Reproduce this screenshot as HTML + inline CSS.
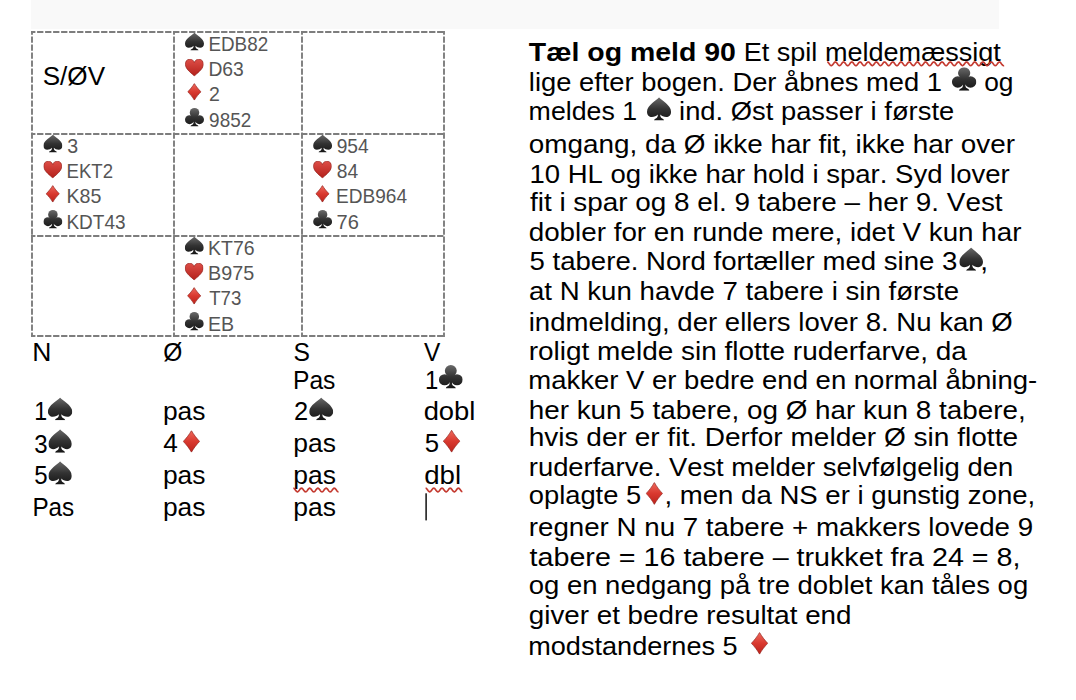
<!DOCTYPE html>
<html><head><meta charset="utf-8"><title>Tæl og meld 90</title>
<style>
html,body{margin:0;padding:0;background:#fff;}
body{width:1076px;height:700px;overflow:hidden;position:relative;}
svg{position:absolute;left:0;top:0;}
text{font-family:"Liberation Sans",sans-serif;font-kerning:none;font-variant-ligatures:none;white-space:pre;}
</style></head><body>
<svg width="1076" height="700" viewBox="0 0 1076 700">
<defs>
<linearGradient id="gb" gradientUnits="userSpaceOnUse" x1="0" y1="0" x2="0" y2="100"><stop offset="0" stop-color="#6a6a6a"/><stop offset="0.5" stop-color="#333"/><stop offset="1" stop-color="#151515"/></linearGradient>
<linearGradient id="gr" gradientUnits="userSpaceOnUse" x1="0" y1="0" x2="0" y2="100"><stop offset="0" stop-color="#de4f48"/><stop offset="1" stop-color="#b3201a"/></linearGradient>
<linearGradient id="gd" gradientUnits="userSpaceOnUse" x1="0" y1="0" x2="0" y2="100"><stop offset="0" stop-color="#ee6a5e"/><stop offset="0.5" stop-color="#d9392f"/><stop offset="1" stop-color="#bb221b"/></linearGradient>
<symbol id="spade" viewBox="0 0 100 100" preserveAspectRatio="none"><path fill="url(#gb)" d="M50 0 C58 12 100 34 100 62 C100 76 91 85 80 85 C70 85 60 80 55 74 C55 80 56 86 60 89 C64 92 71 94 71 100 L29 100 C29 94 36 92 40 89 C44 86 45 80 45 74 C40 80 30 85 20 85 C9 85 0 76 0 62 C0 34 42 12 50 0 Z"/></symbol>
<symbol id="club" viewBox="0 0 100 100" preserveAspectRatio="none"><g fill="url(#gb)"><circle cx="50" cy="25" r="25"/><circle cx="24" cy="63" r="24"/><circle cx="76" cy="63" r="24"/><path d="M36 40 L64 40 L62 74 L38 74 Z"/><path d="M45 70 C45 82 44 86 40 89 C36 92 29 94 29 100 L71 100 C71 94 64 92 60 89 C56 86 55 82 55 70 Z"/></g></symbol>
<symbol id="heart" viewBox="0 0 100 100" preserveAspectRatio="none"><path fill="url(#gr)" stroke="#94221d" stroke-width="0.7" vector-effect="non-scaling-stroke" d="M50 99 C40 87 4 62 1.5 35 C0 14 10 1.5 26 1.5 C38 1.5 46 9 50 21 C54 9 62 1.5 74 1.5 C90 1.5 100 14 98.5 35 C96 62 60 87 50 99 Z"/></symbol>
<symbol id="diamond" viewBox="0 0 100 100" preserveAspectRatio="none"><path fill="url(#gd)" stroke="#962a24" stroke-width="0.7" vector-effect="non-scaling-stroke" d="M50 1 C62 18 82 38 98 50 C82 62 62 82 50 99 C38 82 18 62 2 50 C18 38 38 18 50 1 Z"/></symbol>
</defs>
<rect x="31" y="0" width="968" height="29" fill="#f9f9f9"/>
<line x1="31" y1="32.0" x2="445" y2="32.0" stroke="#7d7d7d" stroke-width="1.9" stroke-dasharray="6.3 1.7" stroke-dashoffset="1.9"/>
<line x1="31" y1="134.0" x2="445" y2="134.0" stroke="#7d7d7d" stroke-width="1.9" stroke-dasharray="6.3 1.7" stroke-dashoffset="1.9"/>
<line x1="31" y1="236.0" x2="445" y2="236.0" stroke="#7d7d7d" stroke-width="1.9" stroke-dasharray="6.3 1.7" stroke-dashoffset="1.9"/>
<line x1="31" y1="336.0" x2="445" y2="336.0" stroke="#7d7d7d" stroke-width="1.9" stroke-dasharray="6.3 1.7" stroke-dashoffset="1.9"/>
<line x1="32.0" y1="31" x2="32.0" y2="337" stroke="#7d7d7d" stroke-width="1.9" stroke-dasharray="6.3 1.7" stroke-dashoffset="2.6"/>
<line x1="174.0" y1="31" x2="174.0" y2="337" stroke="#7d7d7d" stroke-width="1.9" stroke-dasharray="6.3 1.7" stroke-dashoffset="2.6"/>
<line x1="302.0" y1="31" x2="302.0" y2="337" stroke="#7d7d7d" stroke-width="1.9" stroke-dasharray="6.3 1.7" stroke-dashoffset="2.6"/>
<line x1="444.0" y1="31" x2="444.0" y2="337" stroke="#7d7d7d" stroke-width="1.9" stroke-dasharray="6.3 1.7" stroke-dashoffset="2.6"/>
<text x="528.88" y="60.80" font-size="25.5" fill="#000" textLength="206.99" lengthAdjust="spacingAndGlyphs" font-weight="bold">Tæl og meld 90</text>
<text x="743.68" y="60.80" font-size="25.5" fill="#000" textLength="257.22" lengthAdjust="spacingAndGlyphs">Et spil meldemæssigt</text>
<polyline points="827.20,62.00 827.45,62.03 827.70,62.13 827.95,62.29 828.20,62.50 828.45,62.76 828.70,63.06 828.95,63.39 829.20,63.73 829.45,64.07 829.70,64.41 829.95,64.72 830.20,65.00 830.45,65.23 830.70,65.41 830.95,65.53 831.20,65.59 831.45,65.59 831.70,65.52 831.95,65.38 832.20,65.19 832.45,64.95 832.70,64.66 832.95,64.35 833.20,64.01 833.45,63.67 833.70,63.33 833.95,63.01 834.20,62.71 834.45,62.46 834.70,62.26 834.95,62.11 835.20,62.02 835.45,62.00 835.70,62.05 835.95,62.15 836.19,62.32 836.44,62.55 836.69,62.82 836.94,63.12 837.19,63.45 837.44,63.79 837.69,64.13 837.94,64.47 838.19,64.77 838.44,65.04 838.69,65.27 838.94,65.44 839.19,65.55 839.44,65.60 839.69,65.58 839.94,65.50 840.19,65.35 840.44,65.15 840.69,64.90 840.94,64.61 841.19,64.29 841.44,63.95 841.69,63.60 841.94,63.27 842.19,62.95 842.44,62.66 842.69,62.42 842.94,62.22 843.19,62.09 843.44,62.01 843.69,62.00 843.94,62.06 844.19,62.18 844.44,62.36 844.69,62.59 844.94,62.87 845.19,63.18 845.44,63.51 845.69,63.85 845.94,64.20 846.19,64.52 846.44,64.82 846.69,65.09 846.94,65.30 847.19,65.46 847.44,65.56 847.69,65.60 847.94,65.57 848.19,65.48 848.44,65.32 848.69,65.11 848.94,64.85 849.19,64.55 849.44,64.23 849.69,63.89 849.94,63.54 850.19,63.21 850.44,62.90 850.69,62.62 850.94,62.38 851.19,62.20 851.44,62.07 851.69,62.01 851.94,62.01 852.19,62.08 852.44,62.21 852.69,62.40 852.94,62.64 853.19,62.92 853.44,63.24 853.69,63.57 853.93,63.92 854.18,64.26 854.43,64.58 854.68,64.87 854.93,65.13 855.18,65.34 855.43,65.49 855.68,65.58 855.93,65.60 856.18,65.56 856.43,65.45 856.68,65.29 856.93,65.06 857.18,64.80 857.43,64.49 857.68,64.17 857.93,63.82 858.18,63.48 858.43,63.15 858.68,62.84 858.93,62.57 859.18,62.34 859.43,62.17 859.68,62.05 859.93,62.00 860.18,62.02 860.43,62.10 860.68,62.24 860.93,62.44 861.18,62.69 861.43,62.98 861.68,63.30 861.93,63.64 862.18,63.98 862.43,64.32 862.68,64.64 862.93,64.92 863.18,65.17 863.43,65.37 863.68,65.51 863.93,65.58 864.18,65.60 864.43,65.54 864.68,65.43 864.93,65.25 865.18,65.02 865.43,64.75 865.68,64.44 865.93,64.10 866.18,63.76 866.43,63.42 866.68,63.09 866.93,62.79 867.18,62.52 867.43,62.31 867.68,62.14 867.93,62.04 868.18,62.00 868.43,62.03 868.68,62.12 868.93,62.27 869.18,62.48 869.43,62.74 869.68,63.03 869.93,63.36 870.18,63.70 870.43,64.04 870.68,64.38 870.93,64.69 871.18,64.97 871.43,65.21 871.67,65.40 871.92,65.53 872.17,65.59 872.42,65.59 872.67,65.53 872.92,65.40 873.17,65.21 873.42,64.97 873.67,64.69 873.92,64.38 874.17,64.04 874.42,63.70 874.67,63.36 874.92,63.03 875.17,62.74 875.42,62.48 875.67,62.27 875.92,62.12 876.17,62.03 876.42,62.00 876.67,62.04 876.92,62.14 877.17,62.31 877.42,62.52 877.67,62.79 877.92,63.09 878.17,63.42 878.42,63.76 878.67,64.10 878.92,64.44 879.17,64.74 879.42,65.02 879.67,65.25 879.92,65.43 880.17,65.54 880.42,65.60 880.67,65.58 880.92,65.51 881.17,65.37 881.42,65.17 881.67,64.92 881.92,64.64 882.17,64.32 882.42,63.98 882.67,63.64 882.92,63.30 883.17,62.98 883.42,62.69 883.67,62.44 883.92,62.24 884.17,62.10 884.42,62.02 884.67,62.00 884.92,62.05 885.17,62.17 885.42,62.34 885.67,62.57 885.92,62.84 886.17,63.15 886.42,63.48 886.67,63.82 886.92,64.16 887.17,64.49 887.42,64.80 887.67,65.06 887.92,65.28 888.17,65.45 888.42,65.56 888.67,65.60 888.92,65.58 889.16,65.49 889.41,65.34 889.66,65.13 889.91,64.88 890.16,64.58 890.41,64.26 890.66,63.92 890.91,63.57 891.16,63.24 891.41,62.92 891.66,62.64 891.91,62.40 892.16,62.21 892.41,62.08 892.66,62.01 892.91,62.01 893.16,62.07 893.41,62.19 893.66,62.38 893.91,62.62 894.16,62.89 894.41,63.21 894.66,63.54 894.91,63.89 895.16,64.23 895.41,64.55 895.66,64.85 895.91,65.11 896.16,65.32 896.41,65.48 896.66,65.57 896.91,65.60 897.16,65.56 897.41,65.46 897.66,65.30 897.91,65.09 898.16,64.82 898.41,64.52 898.66,64.20 898.91,63.86 899.16,63.51 899.41,63.18 899.66,62.87 899.91,62.59 900.16,62.36 900.41,62.18 900.66,62.06 900.91,62.00 901.16,62.01 901.41,62.09 901.66,62.22 901.91,62.42 902.16,62.66 902.41,62.95 902.66,63.27 902.91,63.60 903.16,63.95 903.41,64.29 903.66,64.61 903.91,64.90 904.16,65.15 904.41,65.35 904.66,65.50 904.91,65.58 905.16,65.60 905.41,65.55 905.66,65.44 905.91,65.27 906.16,65.04 906.41,64.77 906.66,64.47 906.90,64.14 907.15,63.79 907.40,63.45 907.65,63.12 907.90,62.82 908.15,62.55 908.40,62.32 908.65,62.16 908.90,62.05 909.15,62.00 909.40,62.02 909.65,62.11 909.90,62.26 910.15,62.46 910.40,62.71 910.65,63.00 910.90,63.33 911.15,63.67 911.40,64.01 911.65,64.35 911.90,64.66 912.15,64.95 912.40,65.19 912.65,65.38 912.90,65.52 913.15,65.59 913.40,65.59 913.65,65.54 913.90,65.41 914.15,65.23 914.40,65.00 914.65,64.72 914.90,64.41 915.15,64.07 915.40,63.73 915.65,63.39 915.90,63.06 916.15,62.76 916.40,62.50 916.65,62.29 916.90,62.13 917.15,62.03 917.40,62.00 917.65,62.03 917.90,62.13 918.15,62.29 918.40,62.50 918.65,62.76 918.90,63.06 919.15,63.39 919.40,63.73 919.65,64.07 919.90,64.41 920.15,64.72 920.40,64.99 920.65,65.23 920.90,65.41 921.15,65.53 921.40,65.59 921.65,65.59 921.90,65.52 922.15,65.38 922.40,65.19 922.65,64.95 922.90,64.66 923.15,64.35 923.40,64.01 923.65,63.67 923.90,63.33 924.15,63.01 924.40,62.71 924.64,62.46 924.89,62.26 925.14,62.11 925.39,62.02 925.64,62.00 925.89,62.05 926.14,62.15 926.39,62.32 926.64,62.55 926.89,62.81 927.14,63.12 927.39,63.45 927.64,63.79 927.89,64.13 928.14,64.46 928.39,64.77 928.64,65.04 928.89,65.27 929.14,65.44 929.39,65.55 929.64,65.60 929.89,65.58 930.14,65.50 930.39,65.35 930.64,65.15 930.89,64.90 931.14,64.61 931.39,64.29 931.64,63.95 931.89,63.61 932.14,63.27 932.39,62.95 932.64,62.67 932.89,62.42 933.14,62.23 933.39,62.09 933.64,62.01 933.89,62.00 934.14,62.06 934.39,62.18 934.64,62.36 934.89,62.59 935.14,62.87 935.39,63.18 935.64,63.51 935.89,63.85 936.14,64.19 936.39,64.52 936.64,64.82 936.89,65.09 937.14,65.30 937.39,65.46 937.64,65.56 937.89,65.60 938.14,65.57 938.39,65.48 938.64,65.32 938.89,65.11 939.14,64.85 939.39,64.55 939.64,64.23 939.89,63.89 940.14,63.54 940.39,63.21 940.64,62.90 940.89,62.62 941.14,62.38 941.39,62.20 941.64,62.07 941.89,62.01 942.14,62.01 942.38,62.08 942.63,62.21 942.88,62.40 943.13,62.64 943.38,62.92 943.63,63.24 943.88,63.57 944.13,63.92 944.38,64.26 944.63,64.58 944.88,64.87 945.13,65.13 945.38,65.34 945.63,65.49 945.88,65.58 946.13,65.60 946.38,65.56 946.63,65.45 946.88,65.29 947.13,65.07 947.38,64.80 947.63,64.50 947.88,64.17 948.13,63.83 948.38,63.48 948.63,63.15 948.88,62.84 949.13,62.57 949.38,62.34 949.63,62.17 949.88,62.05 950.13,62.00 950.38,62.02 950.63,62.10 950.88,62.24 951.13,62.44 951.38,62.69 951.63,62.98 951.88,63.30 952.13,63.63 952.38,63.98 952.63,64.32 952.88,64.63 953.13,64.92 953.38,65.17 953.63,65.37 953.88,65.51 954.13,65.58 954.38,65.60 954.63,65.54 954.88,65.43 955.13,65.25 955.38,65.02 955.63,64.75 955.88,64.44 956.13,64.11 956.38,63.76 956.63,63.42 956.88,63.09 957.13,62.79 957.38,62.53 957.63,62.31 957.88,62.14 958.13,62.04 958.38,62.00 958.63,62.03 958.88,62.12 959.13,62.27 959.38,62.48 959.63,62.74 959.88,63.03 960.12,63.36 960.37,63.70 960.62,64.04 960.87,64.38 961.12,64.69 961.37,64.97 961.62,65.21 961.87,65.40 962.12,65.53 962.37,65.59 962.62,65.59 962.87,65.53 963.12,65.40 963.37,65.21 963.62,64.97 963.87,64.69 964.12,64.38 964.37,64.04 964.62,63.70 964.87,63.36 965.12,63.04 965.37,62.74 965.62,62.48 965.87,62.27 966.12,62.12 966.37,62.03 966.62,62.00 966.87,62.04 967.12,62.14 967.37,62.30 967.62,62.52 967.87,62.79 968.12,63.09 968.37,63.42 968.62,63.76 968.87,64.10 969.12,64.43 969.37,64.74 969.62,65.02 969.87,65.25 970.12,65.42 970.37,65.54 970.62,65.60 970.87,65.58 971.12,65.51 971.37,65.37 971.62,65.17 971.87,64.93 972.12,64.64 972.37,64.32 972.62,63.98 972.87,63.64 973.12,63.30 973.37,62.98 973.62,62.69 973.87,62.44 974.12,62.24 974.37,62.10 974.62,62.02 974.87,62.00 975.12,62.05 975.37,62.17 975.62,62.34 975.87,62.57 976.12,62.84 976.37,63.15 976.62,63.48 976.87,63.82 977.12,64.16 977.37,64.49 977.61,64.80 977.86,65.06 978.11,65.28 978.36,65.45 978.61,65.56 978.86,65.60 979.11,65.58 979.36,65.49 979.61,65.34 979.86,65.13 980.11,64.88 980.36,64.58 980.61,64.26 980.86,63.92 981.11,63.58 981.36,63.24 981.61,62.92 981.86,62.64 982.11,62.40 982.36,62.21 982.61,62.08 982.86,62.01 983.11,62.01 983.36,62.07 983.61,62.19 983.86,62.38 984.11,62.61 984.36,62.89 984.61,63.21 984.86,63.54 985.11,63.88 985.36,64.22 985.61,64.55 985.86,64.85 986.11,65.11 986.36,65.32 986.61,65.47 986.86,65.57 987.11,65.60 987.36,65.56 987.61,65.46 987.86,65.30 988.11,65.09 988.36,64.83 988.61,64.53 988.86,64.20 989.11,63.86 989.36,63.51 989.61,63.18 989.86,62.87 990.11,62.59 990.36,62.36 990.61,62.18 990.86,62.06 991.11,62.00 991.36,62.01 991.61,62.09 991.86,62.22 992.11,62.42 992.36,62.66 992.61,62.95 992.86,63.27 993.11,63.60 993.36,63.95 993.61,64.28 993.86,64.61 994.11,64.90 994.36,65.15 994.61,65.35 994.86,65.50 995.11,65.58 995.35,65.60 995.60,65.55 995.85,65.44 996.10,65.27 996.35,65.04 996.60,64.77 996.85,64.47 997.10,64.14 997.35,63.79 997.60,63.45 997.85,63.12 998.10,62.82 998.35,62.55 998.60,62.33 998.85,62.16 999.10,62.05 999.35,62.00 999.60,62.02 999.85,62.11 1000.10,62.25 1000.35,62.46 1000.60,62.71 1000.85,63.00 1001.10,63.33 1001.35,63.66 1001.60,64.01 1001.85,64.34 1002.10,64.66 1002.35,64.95 1002.60,65.19 1002.85,65.38 1003.10,65.52 1003.35,65.59 1003.60,65.59 1003.85,65.54 1004.10,65.41" fill="none" stroke="#c43a30" stroke-width="1.7"/>
<text x="528.86" y="90.70" font-size="25.5" fill="#000" textLength="413.18" lengthAdjust="spacingAndGlyphs">lige efter bogen. Der åbnes med 1</text>
<use href="#club" x="951.90" y="67.20" width="24.50" height="23.50"/>
<text x="984.19" y="90.70" font-size="25.5" fill="#000" textLength="29.30" lengthAdjust="spacingAndGlyphs">og</text>
<text x="528.62" y="120.30" font-size="25.5" fill="#000" textLength="108.48" lengthAdjust="spacingAndGlyphs">meldes 1</text>
<use href="#spade" x="647.00" y="97.30" width="24.10" height="23.30"/>
<text x="679.07" y="120.30" font-size="25.5" fill="#000" textLength="275.15" lengthAdjust="spacingAndGlyphs">ind. Øst passer i første</text>
<text x="528.83" y="152.60" font-size="25.5" fill="#000" textLength="486.23" lengthAdjust="spacingAndGlyphs">omgang, da Ø ikke har fit, ikke har over</text>
<text x="529.50" y="182.90" font-size="25.5" fill="#000" textLength="480.25" lengthAdjust="spacingAndGlyphs">10 HL og ikke har hold i spar. Syd lover</text>
<text x="530.01" y="210.90" font-size="25.5" fill="#000" textLength="472.60" lengthAdjust="spacingAndGlyphs">fit i spar og 8 el. 9 tabere – her 9. Vest</text>
<text x="528.73" y="240.70" font-size="25.5" fill="#000" textLength="492.73" lengthAdjust="spacingAndGlyphs">dobler for en runde mere, idet V kun har</text>
<text x="529.50" y="270.00" font-size="25.5" fill="#000" textLength="427.92" lengthAdjust="spacingAndGlyphs">5 tabere. Nord fortæller med sine 3</text>
<use href="#spade" x="959.30" y="247.40" width="23.70" height="23.30"/>
<text x="980.38" y="270.00" font-size="25.5" fill="#000" textLength="7.79" lengthAdjust="spacingAndGlyphs">,</text>
<text x="528.93" y="300.40" font-size="25.5" fill="#000" textLength="430.20" lengthAdjust="spacingAndGlyphs">at N kun havde 7 tabere i sin første</text>
<text x="528.76" y="330.70" font-size="25.5" fill="#000" textLength="483.97" lengthAdjust="spacingAndGlyphs">indmelding, der ellers lover 8. Nu kan Ø</text>
<text x="528.74" y="360.00" font-size="25.5" fill="#000" textLength="438.16" lengthAdjust="spacingAndGlyphs">roligt melde sin flotte ruderfarve, da</text>
<text x="528.27" y="388.60" font-size="25.5" fill="#000" textLength="508.95" lengthAdjust="spacingAndGlyphs">makker V er bedre end en normal åbning-</text>
<text x="528.67" y="418.60" font-size="25.5" fill="#000" textLength="497.03" lengthAdjust="spacingAndGlyphs">her kun 5 tabere, og Ø har kun 8 tabere,</text>
<text x="528.66" y="446.40" font-size="25.5" fill="#000" textLength="489.39" lengthAdjust="spacingAndGlyphs">hvis der er fit. Derfor melder Ø sin flotte</text>
<text x="528.78" y="476.40" font-size="25.5" fill="#000" textLength="484.40" lengthAdjust="spacingAndGlyphs">ruderfarve. Vest melder selvfølgelig den</text>
<text x="528.75" y="504.30" font-size="25.5" fill="#000" textLength="112.39" lengthAdjust="spacingAndGlyphs">oplagte 5</text>
<use href="#diamond" x="645.80" y="482.20" width="17.10" height="22.50"/>
<text x="664.52" y="504.30" font-size="25.5" fill="#000" textLength="370.75" lengthAdjust="spacingAndGlyphs">, men da NS er i gunstig zone,</text>
<text x="528.76" y="536.40" font-size="25.5" fill="#000" textLength="504.35" lengthAdjust="spacingAndGlyphs">regner N nu 7 tabere + makkers lovede 9</text>
<text x="529.57" y="566.40" font-size="25.5" fill="#000" textLength="490.91" lengthAdjust="spacingAndGlyphs">tabere = 16 tabere – trukket fra 24 = 8,</text>
<text x="528.75" y="594.30" font-size="25.5" fill="#000" textLength="499.42" lengthAdjust="spacingAndGlyphs">og en nedgang på tre doblet kan tåles og</text>
<text x="528.83" y="624.30" font-size="25.5" fill="#000" textLength="322.66" lengthAdjust="spacingAndGlyphs">giver et bedre resultat end</text>
<text x="528.20" y="655.00" font-size="25.5" fill="#000" textLength="209.44" lengthAdjust="spacingAndGlyphs">modstandernes 5</text>
<use href="#diamond" x="751.00" y="632.20" width="17.10" height="22.20"/>
<text x="42.72" y="84.70" font-size="25.5" fill="#000" textLength="62.30" lengthAdjust="spacingAndGlyphs">S/ØV</text>
<use href="#spade" x="185.00" y="32.50" width="19.00" height="18.00"/>
<text x="208.45" y="50.50" font-size="19.8" fill="#555" textLength="59.69" lengthAdjust="spacingAndGlyphs">EDB82</text>
<use href="#heart" x="185.10" y="58.90" width="18.50" height="17.30"/>
<text x="208.42" y="76.40" font-size="19.8" fill="#555" textLength="35.43" lengthAdjust="spacingAndGlyphs">D63</text>
<use href="#diamond" x="187.40" y="83.30" width="13.90" height="17.00"/>
<text x="209.02" y="100.60" font-size="19.8" fill="#555" textLength="10.87" lengthAdjust="spacingAndGlyphs">2</text>
<use href="#club" x="185.00" y="108.00" width="19.00" height="18.60"/>
<text x="209.11" y="126.60" font-size="19.8" fill="#555" textLength="42.14" lengthAdjust="spacingAndGlyphs">9852</text>
<use href="#spade" x="43.40" y="134.50" width="19.00" height="18.00"/>
<text x="67.25" y="152.50" font-size="19.8" fill="#555" textLength="10.91" lengthAdjust="spacingAndGlyphs">3</text>
<use href="#heart" x="43.50" y="160.90" width="18.50" height="17.30"/>
<text x="66.47" y="178.40" font-size="19.8" fill="#555" textLength="46.56" lengthAdjust="spacingAndGlyphs">EKT2</text>
<use href="#diamond" x="45.80" y="185.30" width="13.90" height="17.00"/>
<text x="66.39" y="202.60" font-size="19.8" fill="#555" textLength="34.94" lengthAdjust="spacingAndGlyphs">K85</text>
<use href="#club" x="43.40" y="210.00" width="19.00" height="18.60"/>
<text x="66.44" y="228.60" font-size="19.8" fill="#555" textLength="59.09" lengthAdjust="spacingAndGlyphs">KDT43</text>
<use href="#spade" x="313.10" y="134.50" width="19.00" height="18.00"/>
<text x="336.70" y="152.50" font-size="19.8" fill="#555" textLength="32.06" lengthAdjust="spacingAndGlyphs">954</text>
<use href="#heart" x="313.20" y="160.90" width="18.50" height="17.30"/>
<text x="336.76" y="178.40" font-size="19.8" fill="#555" textLength="21.40" lengthAdjust="spacingAndGlyphs">84</text>
<use href="#diamond" x="315.50" y="185.30" width="13.90" height="17.00"/>
<text x="336.04" y="202.60" font-size="19.8" fill="#555" textLength="71.02" lengthAdjust="spacingAndGlyphs">EDB964</text>
<use href="#club" x="313.10" y="210.00" width="19.00" height="18.60"/>
<text x="336.57" y="228.60" font-size="19.8" fill="#555" textLength="22.31" lengthAdjust="spacingAndGlyphs">76</text>
<use href="#spade" x="184.80" y="236.50" width="19.00" height="18.00"/>
<text x="208.00" y="254.50" font-size="19.8" fill="#555" textLength="46.55" lengthAdjust="spacingAndGlyphs">KT76</text>
<use href="#heart" x="184.90" y="262.90" width="18.50" height="17.30"/>
<text x="207.98" y="280.40" font-size="19.8" fill="#555" textLength="46.15" lengthAdjust="spacingAndGlyphs">B975</text>
<use href="#diamond" x="187.20" y="287.30" width="13.90" height="17.00"/>
<text x="209.18" y="304.60" font-size="19.8" fill="#555" textLength="32.14" lengthAdjust="spacingAndGlyphs">T73</text>
<use href="#club" x="184.80" y="312.00" width="19.00" height="18.60"/>
<text x="207.99" y="330.60" font-size="19.8" fill="#555" textLength="26.14" lengthAdjust="spacingAndGlyphs">EB</text>
<text x="32.23" y="360.90" font-size="25.0" fill="#000" textLength="19.13" lengthAdjust="spacingAndGlyphs">N</text>
<text x="163.15" y="360.90" font-size="25.0" fill="#000" textLength="19.08" lengthAdjust="spacingAndGlyphs">Ø</text>
<text x="293.48" y="360.90" font-size="25.0" fill="#000" textLength="16.45" lengthAdjust="spacingAndGlyphs">S</text>
<text x="423.99" y="360.90" font-size="25.0" fill="#000" textLength="16.31" lengthAdjust="spacingAndGlyphs">V</text>
<text x="292.98" y="388.60" font-size="25.0" fill="#000" textLength="42.41" lengthAdjust="spacingAndGlyphs">Pas</text>
<text x="424.88" y="388.60" font-size="25.0" fill="#000" textLength="13.29" lengthAdjust="spacingAndGlyphs">1</text>
<use href="#club" x="438.90" y="365.00" width="23.80" height="23.40"/>
<text x="34.23" y="420.30" font-size="25.0" fill="#000" textLength="12.90" lengthAdjust="spacingAndGlyphs">1</text>
<use href="#spade" x="47.90" y="397.40" width="24.40" height="22.90"/>
<text x="162.90" y="420.30" font-size="25.0" fill="#000" textLength="42.55" lengthAdjust="spacingAndGlyphs">pas</text>
<text x="294.02" y="420.30" font-size="25.0" fill="#000" textLength="14.16" lengthAdjust="spacingAndGlyphs">2</text>
<use href="#spade" x="309.20" y="397.40" width="24.00" height="22.90"/>
<text x="423.65" y="420.30" font-size="25.0" fill="#000" textLength="51.78" lengthAdjust="spacingAndGlyphs">dobl</text>
<text x="34.18" y="452.60" font-size="25.0" fill="#000" textLength="13.37" lengthAdjust="spacingAndGlyphs">3</text>
<use href="#spade" x="48.40" y="429.20" width="23.40" height="23.50"/>
<text x="163.30" y="452.30" font-size="25.0" fill="#000" textLength="14.57" lengthAdjust="spacingAndGlyphs">4</text>
<use href="#diamond" x="182.90" y="430.40" width="17.10" height="22.00"/>
<text x="293.29" y="452.30" font-size="25.0" fill="#000" textLength="42.66" lengthAdjust="spacingAndGlyphs">pas</text>
<text x="424.67" y="452.30" font-size="25.0" fill="#000" textLength="14.31" lengthAdjust="spacingAndGlyphs">5</text>
<use href="#diamond" x="442.90" y="430.00" width="17.40" height="22.40"/>
<text x="34.14" y="484.40" font-size="25.0" fill="#000" textLength="13.37" lengthAdjust="spacingAndGlyphs">5</text>
<use href="#spade" x="48.40" y="461.20" width="23.40" height="23.30"/>
<text x="162.90" y="484.30" font-size="25.0" fill="#000" textLength="42.55" lengthAdjust="spacingAndGlyphs">pas</text>
<text x="293.29" y="484.30" font-size="25.0" fill="#000" textLength="42.66" lengthAdjust="spacingAndGlyphs">pas</text>
<text x="424.24" y="484.30" font-size="25.0" fill="#000" textLength="36.91" lengthAdjust="spacingAndGlyphs">dbl</text>
<polyline points="293.30,488.20 293.55,488.23 293.80,488.33 294.05,488.49 294.30,488.70 294.55,488.96 294.80,489.26 295.05,489.59 295.30,489.93 295.55,490.27 295.80,490.60 296.05,490.92 296.30,491.19 296.55,491.43 296.80,491.61 297.05,491.73 297.30,491.79 297.55,491.79 297.80,491.72 298.04,491.58 298.29,491.39 298.54,491.15 298.79,490.87 299.04,490.55 299.29,490.22 299.54,489.87 299.79,489.53 300.04,489.21 300.29,488.92 300.54,488.66 300.79,488.46 301.04,488.31 301.29,488.22 301.54,488.20 301.79,488.24 302.04,488.35 302.29,488.52 302.54,488.74 302.79,489.01 303.04,489.31 303.29,489.64 303.54,489.98 303.79,490.33 304.04,490.66 304.29,490.96 304.54,491.24 304.79,491.46 305.04,491.64 305.29,491.75 305.54,491.80 305.79,491.78 306.04,491.70 306.29,491.56 306.54,491.36 306.79,491.11 307.03,490.82 307.28,490.50 307.53,490.16 307.78,489.82 308.03,489.48 308.28,489.16 308.53,488.87 308.78,488.63 309.03,488.43 309.28,488.29 309.53,488.21 309.78,488.20 310.03,488.26 310.28,488.38 310.53,488.55 310.78,488.78 311.03,489.06 311.28,489.37 311.53,489.70 311.78,490.04 312.03,490.38 312.28,490.71 312.53,491.01 312.78,491.28 313.03,491.49 313.28,491.66 313.53,491.76 313.78,491.80 314.03,491.77 314.28,491.68 314.53,491.53 314.78,491.32 315.03,491.06 315.28,490.77 315.53,490.44 315.78,490.10 316.02,489.76 316.27,489.42 316.52,489.11 316.77,488.83 317.02,488.59 317.27,488.40 317.52,488.27 317.77,488.21 318.02,488.21 318.27,488.27 318.52,488.40 318.77,488.59 319.02,488.82 319.27,489.11 319.52,489.42 319.77,489.75 320.02,490.10 320.27,490.44 320.52,490.76 320.77,491.06 321.02,491.32 321.27,491.52 321.52,491.68 321.77,491.77 322.02,491.80 322.27,491.76 322.52,491.66 322.77,491.50 323.02,491.28 323.27,491.02 323.52,490.72 323.77,490.39 324.02,490.05 324.27,489.70 324.52,489.37 324.77,489.06 325.01,488.79 325.26,488.56 325.51,488.38 325.76,488.26 326.01,488.20 326.26,488.21 326.51,488.29 326.76,488.43 327.01,488.62 327.26,488.87 327.51,489.15 327.76,489.47 328.01,489.81 328.26,490.15 328.51,490.49 328.76,490.81 329.01,491.10 329.26,491.35 329.51,491.55 329.76,491.70 330.01,491.78 330.26,491.80 330.51,491.75 330.76,491.64 331.01,491.47 331.26,491.24 331.51,490.97 331.76,490.66 332.01,490.33 332.26,489.99 332.51,489.65 332.76,489.32 333.01,489.01 333.26,488.75 333.51,488.52 333.76,488.35 334.00,488.25 334.25,488.20 334.50,488.22 334.75,488.31 335.00,488.46 335.25,488.66 335.50,488.91 335.75,489.21 336.00,489.53 336.25,489.87 336.50,490.21 336.75,490.55 337.00,490.86 337.25,491.15 337.50,491.39 337.75,491.58 338.00,491.72 338.25,491.79 338.50,491.79" fill="none" stroke="#c43a30" stroke-width="1.7"/>
<polyline points="425.60,488.20 425.85,488.23 426.10,488.33 426.35,488.49 426.59,488.70 426.84,488.96 427.09,489.25 427.34,489.58 427.59,489.92 427.84,490.26 428.09,490.59 428.34,490.90 428.58,491.18 428.83,491.42 429.08,491.60 429.33,491.73 429.58,491.79 429.83,491.79 430.08,491.73 430.32,491.60 430.57,491.41 430.82,491.18 431.07,490.90 431.32,490.58 431.57,490.25 431.82,489.91 432.06,489.57 432.31,489.25 432.56,488.95 432.81,488.69 433.06,488.48 433.31,488.33 433.56,488.23 433.81,488.20 434.05,488.23 434.30,488.33 434.55,488.49 434.80,488.70 435.05,488.96 435.30,489.26 435.55,489.58 435.79,489.92 436.04,490.27 436.29,490.60 436.54,490.91 436.79,491.19 437.04,491.42 437.29,491.60 437.54,491.73 437.78,491.79 438.03,491.79 438.28,491.72 438.53,491.59 438.78,491.41 439.03,491.17 439.28,490.89 439.52,490.58 439.77,490.24 440.02,489.90 440.27,489.56 440.52,489.24 440.77,488.94 441.02,488.69 441.26,488.48 441.51,488.32 441.76,488.23 442.01,488.20 442.26,488.24 442.51,488.33 442.76,488.49 443.01,488.71 443.25,488.97 443.50,489.27 443.75,489.59 444.00,489.93 444.25,490.27 444.50,490.60 444.75,490.92 444.99,491.19 445.24,491.43 445.49,491.61 445.74,491.73 445.99,491.79 446.24,491.79 446.49,491.72 446.74,491.59 446.98,491.40 447.23,491.16 447.48,490.88 447.73,490.57 447.98,490.24 448.23,489.89 448.48,489.56 448.72,489.23 448.97,488.94 449.22,488.68 449.47,488.47 449.72,488.32 449.97,488.23 450.22,488.20 450.46,488.24 450.71,488.34 450.96,488.50 451.21,488.71 451.46,488.98 451.71,489.27 451.96,489.60 452.21,489.94 452.45,490.28 452.70,490.61 452.95,490.92 453.20,491.20 453.45,491.43 453.70,491.61 453.95,491.73 454.19,491.79 454.44,491.79 454.69,491.72 454.94,491.59 455.19,491.40 455.44,491.16 455.69,490.88 455.94,490.56 456.18,490.23 456.43,489.89 456.68,489.55 456.93,489.23 457.18,488.93 457.43,488.68 457.68,488.47 457.92,488.32 458.17,488.23 458.42,488.20 458.67,488.24 458.92,488.34 459.17,488.50 459.42,488.72 459.66,488.98 459.91,489.28 460.16,489.61 460.41,489.95 460.66,490.29 460.91,490.62 461.16,490.93 461.41,491.20 461.65,491.43 461.90,491.61 462.15,491.74 462.40,491.79" fill="none" stroke="#c43a30" stroke-width="1.7"/>
<text x="32.41" y="516.40" font-size="25.0" fill="#000" textLength="41.87" lengthAdjust="spacingAndGlyphs">Pas</text>
<text x="162.90" y="516.40" font-size="25.0" fill="#000" textLength="42.55" lengthAdjust="spacingAndGlyphs">pas</text>
<text x="293.29" y="516.40" font-size="25.0" fill="#000" textLength="42.66" lengthAdjust="spacingAndGlyphs">pas</text>
<rect x="425.4" y="493.3" width="1.4" height="27.1" fill="#000"/>
</svg>
</body></html>
